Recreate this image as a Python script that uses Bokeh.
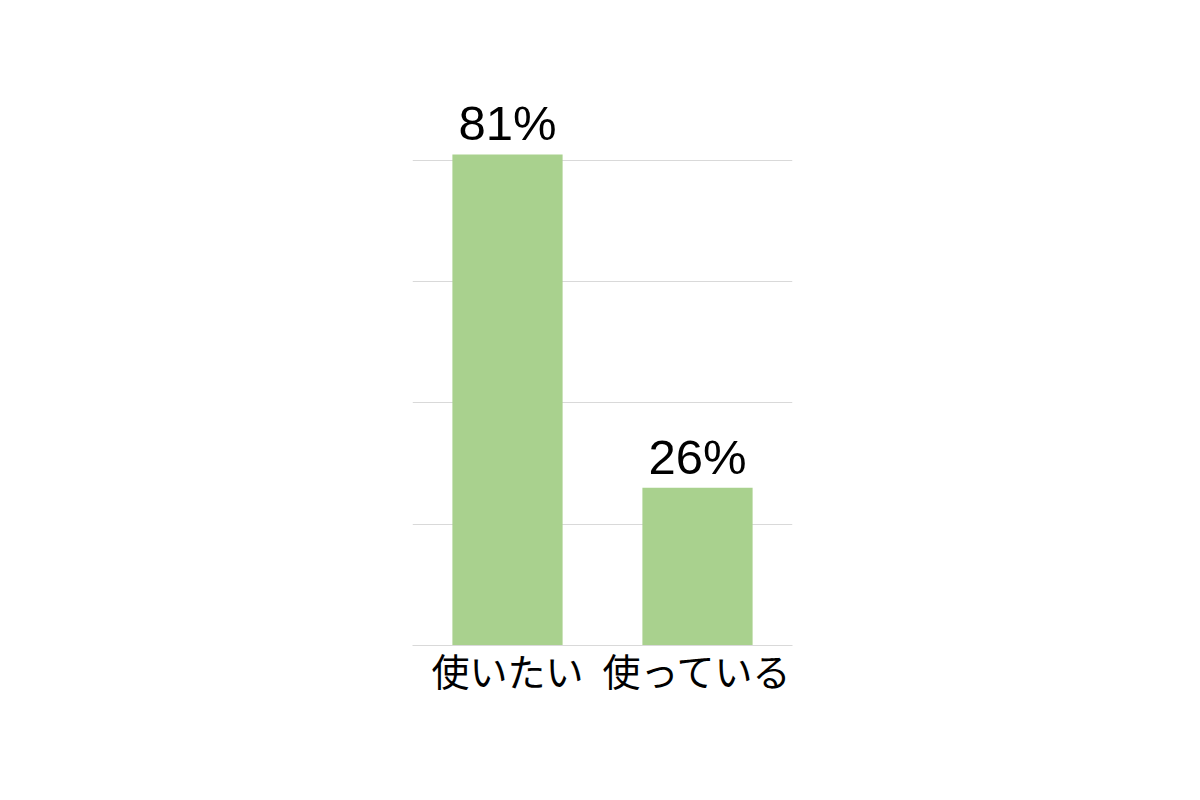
from bokeh.plotting import figure
from bokeh.models import ColumnDataSource, FactorRange, Range1d, FixedTicker
from bokeh.core.properties import value
from bokeh.embed import file_html
from bokeh.resources import INLINE

categories = ["使いたい", "使っている"]
shares = [0.81, 0.26]
share_labels = ["81%", "26%"]
grid_ticks = [0, 0.2, 0.4, 0.6, 0.8]

source = ColumnDataSource(data=dict(cat=categories, share=shares,
                                    label=share_labels))

p = figure(x_range=FactorRange(*categories, range_padding=0),
           y_range=Range1d(0, 0.95),
           frame_width=380, frame_height=576,
           min_border_left=412, min_border_top=69,
           min_border_right=40, min_border_bottom=90,
           output_backend="svg", toolbar_location=None,
           background_fill_color="white", border_fill_color="white")
p.outline_line_color = None

# bars
p.vbar(x="cat", top="share", width=0.58, source=source,
       fill_color="#a9d18e", line_color=None)

# value labels above bars
p.text(x="cat", y="share", text="label", source=source,
       text_align="center", text_baseline="bottom", y_offset=-4,
       text_font=value("Liberation Sans"), text_font_size="49px",
       text_color="black")

# y axis hidden, only the light grid stays
p.yaxis.visible = False
p.yaxis.ticker = FixedTicker(ticks=grid_ticks)
p.ygrid.ticker = FixedTicker(ticks=grid_ticks)
p.ygrid.grid_line_color = "#d9d9d9"
p.ygrid.grid_line_width = 1
p.xgrid.grid_line_color = None

# baseline in the same grey as the grid
p.xaxis.axis_line_color = "#d9d9d9"
p.xaxis.major_tick_line_color = None
p.xaxis.minor_tick_line_color = None
p.xaxis.major_label_standoff = -10
p.xaxis.major_label_text_font = "Noto Sans CJK JP"
p.xaxis.major_label_text_font_size = "38px"
p.xaxis.major_label_text_color = "black"

open("out.html", "w").write(file_html(p, INLINE))
